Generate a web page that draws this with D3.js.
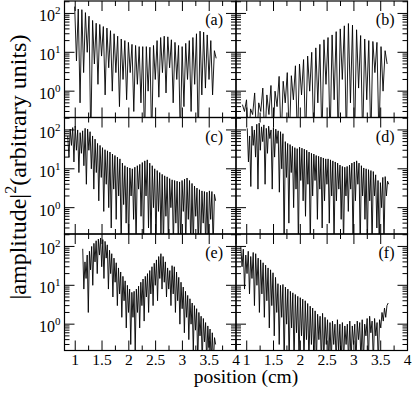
<!DOCTYPE html>
<html>
<head>
<meta charset="utf-8">
<script src="https://cdn.jsdelivr.net/npm/d3@7/dist/d3.min.js"></script>
<style>
  body { margin: 0; background: #fff; }
  svg { display: block; font-family: 'Liberation Serif', 'Times New Roman', serif; }
</style>
</head>
<body>
<div id="chart"></div>
<script>
// axis settings
var panelNames = ['(a)', '(b)', '(c)', '(d)', '(e)', '(f)'];
var xMajor = [1, 1.5, 2, 2.5, 3, 3.5, 4];
var xMinor = [1.25, 1.75, 2.25, 2.75, 3.25, 3.75];
var xLabels = ['1', '1.5', '2', '2.5', '3', '3.5', '4'];
var yMajor = [1, 10, 100];
var yLabelExp = ['0', '1', '2'];
var xDomain = [0.8, 4];
var yDomain = [0.21, 209];

// each trace: [start, end] in cm, then peak values, the dips between them, last value
var spanA = [0.99, 3.63];
var peaksA = [150,130,125,105,85,66,56,52,46,42,36,30,26,22,20,18,16,15,14,14,14,13.5,15,20,24,26,25,21,18,15,14,17,20,24,30,35,33,28,20,11];
var dipsA = [6,0.5,3,10,0.05,5,1.5,8,0.8,4,1,3,0.4,2,0.6,3,0.3,1.5,0.5,0.05,1,0.05,2,0.7,3,0.9,4,0.5,2,0.05,0.4,2,0.3,1.5,0.05,0.8,1.2,2,0.8];
var tailA = 7;

var spanB = [0.92, 3.62];
var peaksB = [0.45,0.6,0.35,0.9,0.5,1.2,0.8,1.4,1.0,2.4,1.8,3.0,2.5,4.5,5.0,6.5,8,10,13,16,21,24,28,34,40,48,55,50,38,27,22,20,19,18,14,11];
var dipsB = [0.3,0.05,0.25,0.05,0.3,0.05,0.25,0.05,0.4,0.05,0.5,0.05,0.6,0.05,0.8,0.05,1,0.05,0.5,0.05,1.5,0.05,0.6,0.05,2,0.05,0.5,0.05,1.2,0.05,0.6,0.05,3,0.05,1];
var tailB = 5;

var spanC = [0.86, 3.62];
var peaksC = [70,105,115,125,100,85,95,110,105,90,70,58,45,40,35,31,29,27,24,22,20,18,14,12,11,10.5,10,11,12,13,14.5,16,17,14,12,10,9,8,7.2,6.6,6.2,5.6,5.2,5,4.8,4.6,5,5.4,5.8,5,4.2,3.6,3.2,2.9,2.7,2.6,2.5,2.7,2.6,2.2];
var dipsC = [20,40,15,30,8,25,12,4,30,10,3,8,1.5,6,0.8,4,1,0.3,3,0.5,2,0.1,1.2,0.4,0.1,2,0.5,0.1,3,0.6,0.1,2,0.3,0.1,1,0.1,0.8,0.2,0.1,0.6,0.1,1,0.1,0.4,0.1,0.1,0.8,0.1,0.5,0.1,0.1,0.6,0.1,0.1,0.4,0.1,0.1,0.5,0.1];
var tailC = 1.5;

var spanD = [1.01, 3.65];
var peaksD = [110,70,125,100,140,150,120,135,110,125,100,115,105,95,90,80,50,45,42,38,35,33,36,34,32,30,27,25,24,22,21,20,19,18,18,17,16,15,14,12.5,11.5,11,11.5,12.5,14,15,16,14,12,10.5,10,9.5,9,8.5,7,5,4.4,6,6.3,4.8];
var dipsD = [15,3.5,40,20,3,30,50,4,25,60,3,20,45,2.5,10,0.1,6,0.4,8,1,3,0.1,5,1.5,0.6,4,0.1,2,5,0.5,3,0.3,1.5,4,0.4,2,0.1,1.5,3,0.5,0.1,2,0.8,3,0.1,1.5,4,0.1,2,0.5,0.1,1.5,0.1,2,0.3,0.1,1,0.1,2];
var tailD = 4;

var spanE = [1.14, 3.62];
var peaksE = [87,40,60,75,100,120,140,155,165,150,135,110,80,65,50,38,28,22,17,13,10,8,6.6,7,8,9.5,12,14.5,17,20,24,30,37,45,55,65,55,40,28,24,32,30,22,16,12,9,7,5.5,4.5,3.5,3,2.5,2,1.6,1.4,1.1,0.9,0.75,0.6,0.45];
var dipsE = [8,15,2,25,10,40,20,60,30,15,50,8,20,5,12,3,6,1.5,4,0.8,2,0.3,1.5,0.2,2,0.8,3,1.2,5,2,6,3,10,4,15,8,12,5,8,3,6,2,4,1,2.5,0.6,1.5,0.4,1,0.2,0.7,0.1,0.5,0.1,0.35,0.1,0.25,0.1,0.1];
var tailE = 0.3;

var spanF = [0.89, 3.64];
var peaksF = [100,85,60,75,55,70,65,50,45,38,33,28,25,21,16,11,10,10.5,9,8,7,6.4,5.8,5.2,4.8,4.4,4,3.4,2.9,2.6,2.2,1.8,1.6,1.9,1.5,1.3,1.1,1.2,1.0,1.3,1.0,1.1,0.9,1.0,1.2,0.9,1.0,1.2,1.1,1.3,1.0,1.4,1.6,1.2,1.4,1.1,1.3,2.0,2.6,3.0];
var dipsF = [30,8,20,6,15,3,10,2,6,1.5,4,0.8,3,0.5,2,0.3,1.5,0.1,1,0.1,0.8,0.1,0.6,0.1,0.5,0.1,0.4,0.1,0.3,0.1,0.1,0.4,0.1,0.1,0.3,0.1,0.1,0.3,0.1,0.2,0.1,0.1,0.3,0.1,0.1,0.3,0.1,0.4,0.1,0.1,0.5,0.1,0.6,0.1,0.5,0.1,0.8,1.2,1.5];
var tailF = 3.5;

var traces = [
  [spanA, peaksA, dipsA, tailA],
  [spanB, peaksB, dipsB, tailB],
  [spanC, peaksC, dipsC, tailC],
  [spanD, peaksD, dipsD, tailD],
  [spanE, peaksE, dipsE, tailE],
  [spanF, peaksF, dipsF, tailF]
];

var svgWidth = 415;
var svgHeight = 397;
var offsetLeft = 64.5;
var offsetTop = 1;
var panelW = 171.5;
var panelH = 116.5;
var majorLen = 10;
var minorLen = 5;

var svg = d3.select('#chart').append('svg')
  .attr('width', svgWidth)
  .attr('height', svgHeight);

var x = d3.scaleLinear().domain(xDomain).range([0, panelW]);
var y = d3.scaleLog().domain(yDomain).range([panelH, 0]);

// log minor ticks 2..9 in each decade that fall inside the domain
var yMinor = y.ticks().filter(function (v) {
  return yMajor.indexOf(v) < 0 && v >= yDomain[0] && v <= yDomain[1];
});

var buildPoints = function (trace) {
  var vals = [];
  trace[1].forEach(function (p, i) {
    vals.push(p);
    if (i < trace[2].length) {
      vals.push(trace[2][i]);
    }
  });
  vals.push(trace[3]);
  var pos = d3.scaleLinear().domain([0, vals.length - 1]).range(trace[0]);
  return vals.map(function (v, i) {
    return [pos(i), v];
  });
};

var line = d3.line()
  .x(function (d) { return x(d[0]); })
  .y(function (d) { return y(d[1]); });

traces.forEach(function (trace, i) {
  var col = i % 2;
  var row = Math.floor(i / 2);
  var g = svg.append('g')
    .attr('transform', 'translate(' + (offsetLeft + col * panelW) + ',' + (offsetTop + row * panelH) + ')');

  g.append('clipPath')
    .attr('id', 'clip' + i)
    .append('rect')
    .attr('width', panelW)
    .attr('height', panelH);

  g.append('path')
    .datum(buildPoints(trace))
    .attr('clip-path', 'url(#clip' + i + ')')
    .attr('fill', 'none')
    .attr('stroke', '#000')
    .attr('stroke-width', 0.9)
    .attr('d', line);

  var ticks = g.append('g')
    .attr('stroke', '#000')
    .attr('stroke-width', 1);

  // x ticks on top and bottom, pointing in
  [[xMajor, majorLen], [xMinor, minorLen]].forEach(function (set) {
    set[0].forEach(function (v) {
      ticks.append('line')
        .attr('x1', x(v)).attr('x2', x(v))
        .attr('y1', panelH).attr('y2', panelH - set[1]);
      ticks.append('line')
        .attr('x1', x(v)).attr('x2', x(v))
        .attr('y1', 0).attr('y2', set[1]);
    });
  });

  // y ticks on left and right
  [[yMajor, majorLen], [yMinor, minorLen]].forEach(function (set) {
    set[0].forEach(function (v) {
      var yy = y(v);
      ticks.append('line')
        .attr('x1', 0).attr('x2', set[1])
        .attr('y1', yy).attr('y2', yy);
      ticks.append('line')
        .attr('x1', panelW).attr('x2', panelW - set[1])
        .attr('y1', yy).attr('y2', yy);
    });
  });

  g.append('rect')
    .attr('width', panelW)
    .attr('height', panelH)
    .attr('fill', 'none')
    .attr('stroke', '#000')
    .attr('stroke-width', 1.2);

  g.append('text')
    .attr('x', panelW - 13)
    .attr('y', 24)
    .attr('text-anchor', 'end')
    .attr('font-size', 16)
    .text(panelNames[i]);

  if (col === 0) {
    yMajor.forEach(function (v, k) {
      var t = g.append('text')
        .attr('x', -4)
        .attr('y', y(v) + 8)
        .attr('text-anchor', 'end')
        .attr('font-size', 16);
      t.append('tspan').text('10');
      t.append('tspan')
        .attr('font-size', 11)
        .attr('dy', -7)
        .text(yLabelExp[k]);
    });
  }

  if (row === 2) {
    xMajor.forEach(function (v, k) {
      g.append('text')
        .attr('x', x(v))
        .attr('y', panelH + 14)
        .attr('text-anchor', 'middle')
        .attr('font-size', 15.5)
        .text(xLabels[k]);
    });
  }
});

svg.append('text')
  .attr('x', 246)
  .attr('y', 383)
  .attr('text-anchor', 'middle')
  .attr('font-size', 19.5)
  .text('position (cm)');

var yTitle = svg.append('text')
  .attr('transform', 'translate(26,167) rotate(-90)')
  .attr('text-anchor', 'middle')
  .attr('font-size', 24);
yTitle.append('tspan').text('|amplitude|');
yTitle.append('tspan').attr('font-size', 16).attr('dy', -10).text('2');
yTitle.append('tspan').attr('dy', 10).text('(arbitrary units)');
</script>
</body>
</html>
